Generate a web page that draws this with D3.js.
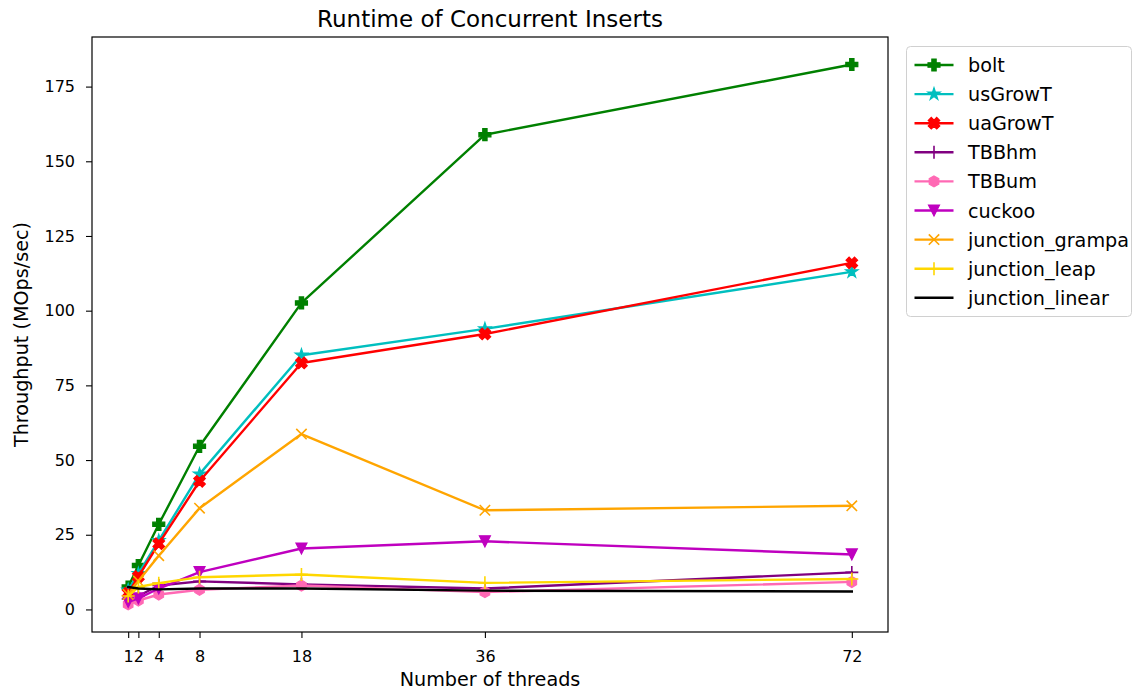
<!DOCTYPE html>
<html>
<head>
<meta charset="utf-8">
<script src="https://cdn.jsdelivr.net/npm/d3@7"></script>
<style>
  html, body { margin: 0; padding: 0; background: #fff; }
  svg { display: block; font-family: "DejaVu Sans", sans-serif; }
</style>
</head>
<body>
<svg id="chart" width="1133" height="691"></svg>
<script>
// Thread counts on the x axis
const threads = [1, 2, 4, 8, 18, 36, 72];
const xTicks = [1, 2, 4, 8, 18, 36, 72];
const yTicks = [0, 25, 50, 75, 100, 125, 150, 175];

// Throughput (MOps/sec) per hash table implementation
const bolt            = [7.5, 14.7, 28.5, 54.6, 102.6, 158.9, 182.4];
const usGrowT         = [6.5, 12.0, 23.0, 45.3, 85.1, 93.9, 113.0];
const uaGrowT         = [5.5, 11.0, 22.0, 42.9, 82.5, 92.2, 116.0];
const TBBhm           = [3.5, 4.5, 8.0, 9.4, 8.4, 7.0, 12.4];
const TBBum           = [1.7, 3.0, 5.0, 6.6, 8.0, 5.8, 9.2];
const cuckoo          = [2.5, 3.7, 7.0, 12.5, 20.4, 22.8, 18.4];
const junction_grampa = [5.0, 9.5, 18.0, 33.9, 58.7, 33.2, 34.7];
const junction_leap   = [4.5, 7.5, 8.8, 10.8, 11.7, 8.9, 10.2];
const junction_linear = [7.5, 7.0, 6.7, 7.0, 7.0, 6.3, 6.0];

const series = [
  { name: "bolt",            values: bolt,            color: "#008000", marker: "P" },
  { name: "usGrowT",         values: usGrowT,         color: "#00bfbf", marker: "*" },
  { name: "uaGrowT",         values: uaGrowT,         color: "#ff0000", marker: "X" },
  { name: "TBBhm",           values: TBBhm,           color: "#800080", marker: "+" },
  { name: "TBBum",           values: TBBum,           color: "#ff69b4", marker: "h" },
  { name: "cuckoo",          values: cuckoo,          color: "#bf00bf", marker: "v" },
  { name: "junction_grampa", values: junction_grampa, color: "#ffa500", marker: "x" },
  { name: "junction_leap",   values: junction_leap,   color: "#ffd700", marker: "+" },
  { name: "junction_linear", values: junction_linear, color: "#000000", marker: null }
];

const svg = d3.select("#chart");
const plot = { left: 92, top: 37, right: 888, bottom: 632 };

const x = d3.scaleLinear().domain([-2.55, 75.55]).range([plot.left, plot.right]);
const y = d3.scaleLinear().domain([-7.55, 191.6]).range([plot.bottom, plot.top]);

// Marker shapes (centred at 0,0, radius r)
function markerPath(type, r) {
  const p = d3.path();
  const poly = pts => {
    pts.forEach((q, i) => i ? p.lineTo(q[0], q[1]) : p.moveTo(q[0], q[1]));
    p.closePath();
  };
  const w = r * 0.36;
  const plus = [[-w,-r],[w,-r],[w,-w],[r,-w],[r,w],[w,w],[w,r],[-w,r],[-w,w],[-r,w],[-r,-w],[-w,-w]];
  if (type === "P") {
    poly(plus);
  } else if (type === "X") {
    const c = Math.SQRT1_2;
    poly(plus.map(q => [(q[0] - q[1]) * c, (q[0] + q[1]) * c]));
  } else if (type === "*") {
    const inner = r * 0.381966;
    poly(d3.range(10).map(i => {
      const a = -Math.PI / 2 + i * Math.PI / 5;
      const rr = i % 2 ? inner : r;
      return [rr * Math.cos(a), rr * Math.sin(a)];
    }));
  } else if (type === "h") {
    poly(d3.range(6).map(i => {
      const a = -Math.PI / 2 + i * Math.PI / 3;
      return [r * Math.cos(a), r * Math.sin(a)];
    }));
  } else if (type === "v") {
    poly([[-r, -r], [r, -r], [0, r]]);
  } else if (type === "+") {
    p.moveTo(-r, 0); p.lineTo(r, 0); p.moveTo(0, -r); p.lineTo(0, r);
  } else if (type === "x") {
    const d = r * 0.8;
    p.moveTo(-d, -d); p.lineTo(d, d); p.moveTo(-d, d); p.lineTo(d, -d);
  }
  return p.toString();
}

const markerRadius = { P: 6, X: 6, "*": 6.5, h: 5.5, v: 5.5, "+": 6.5, x: 6.5 };

function drawMarker(g, type, color, cx, cy) {
  if (!type) return;
  const filled = !(type === "+" || type === "x");
  g.append("path")
    .attr("d", markerPath(type, markerRadius[type]))
    .attr("transform", `translate(${cx},${cy})`)
    .attr("fill", filled ? color : "none")
    .attr("stroke", color)
    .attr("stroke-width", filled ? 1.2 : 1.6)
    .attr("stroke-linejoin", "miter");
}

const line = d3.line().x((d, i) => x(threads[i])).y(d => y(d));

const lines = svg.append("g");
series.forEach(s => {
  const g = lines.append("g");
  g.append("path")
    .attr("d", line(s.values))
    .attr("fill", "none")
    .attr("stroke", s.color)
    .attr("stroke-width", 2.4)
    .attr("stroke-linejoin", "round")
    .attr("stroke-linecap", "square");
  s.values.forEach((v, i) => drawMarker(g, s.marker, s.color, x(threads[i]), y(v)));
});

// Axes
const xAxis = d3.axisBottom(x).tickValues(xTicks).tickSize(6).tickPadding(13)
  .tickFormat(d3.format("d"));
const yAxis = d3.axisLeft(y).tickValues(yTicks).tickSize(6).tickPadding(11)
  .tickFormat(d3.format("d"));

const gx = svg.append("g").attr("transform", `translate(0,${plot.bottom})`).call(xAxis);
const gy = svg.append("g").attr("transform", `translate(${plot.left},0)`).call(yAxis);
[gx, gy].forEach(g => {
  g.select(".domain").remove();
  g.selectAll(".tick line").attr("stroke", "#000").attr("stroke-width", 1.1);
  g.selectAll(".tick text").attr("fill", "#000")
    .style("font-family", "'DejaVu Sans', sans-serif").style("font-size", "16px");
});

// Spines
svg.append("rect")
  .attr("x", plot.left).attr("y", plot.top)
  .attr("width", plot.right - plot.left).attr("height", plot.bottom - plot.top)
  .attr("fill", "none").attr("stroke", "#000").attr("stroke-width", 1.2);

// Title and axis labels
svg.append("text")
  .attr("x", (plot.left + plot.right) / 2).attr("y", 27)
  .attr("text-anchor", "middle").style("font-size", "23px")
  .text("Runtime of Concurrent Inserts");

svg.append("text")
  .attr("x", (plot.left + plot.right) / 2).attr("y", 686)
  .attr("text-anchor", "middle").style("font-size", "19.2px")
  .text("Number of threads");

svg.append("text")
  .attr("transform", `translate(28,${(plot.top + plot.bottom) / 2}) rotate(-90)`)
  .attr("text-anchor", "middle").style("font-size", "19.2px")
  .text("Throughput (MOps/sec)");

// Legend
const legend = svg.append("g").attr("transform", "translate(906.5,46.5)");
legend.append("rect")
  .attr("x", 0).attr("y", 0).attr("width", 225).attr("height", 270)
  .attr("rx", 4).attr("fill", "#fff").attr("stroke", "#d0d0d0").attr("stroke-width", 1);
series.forEach((s, i) => {
  const ly = 18.5 + i * 29.1;
  const g = legend.append("g");
  g.append("line")
    .attr("x1", 8).attr("x2", 47).attr("y1", ly).attr("y2", ly)
    .attr("stroke", s.color).attr("stroke-width", 2.4);
  drawMarker(g, s.marker, s.color, 27.5, ly);
  g.append("text")
    .attr("x", 61.5).attr("y", ly + 7)
    .style("font-size", "19.2px")
    .text(s.name);
});
</script>
</body>
</html>
